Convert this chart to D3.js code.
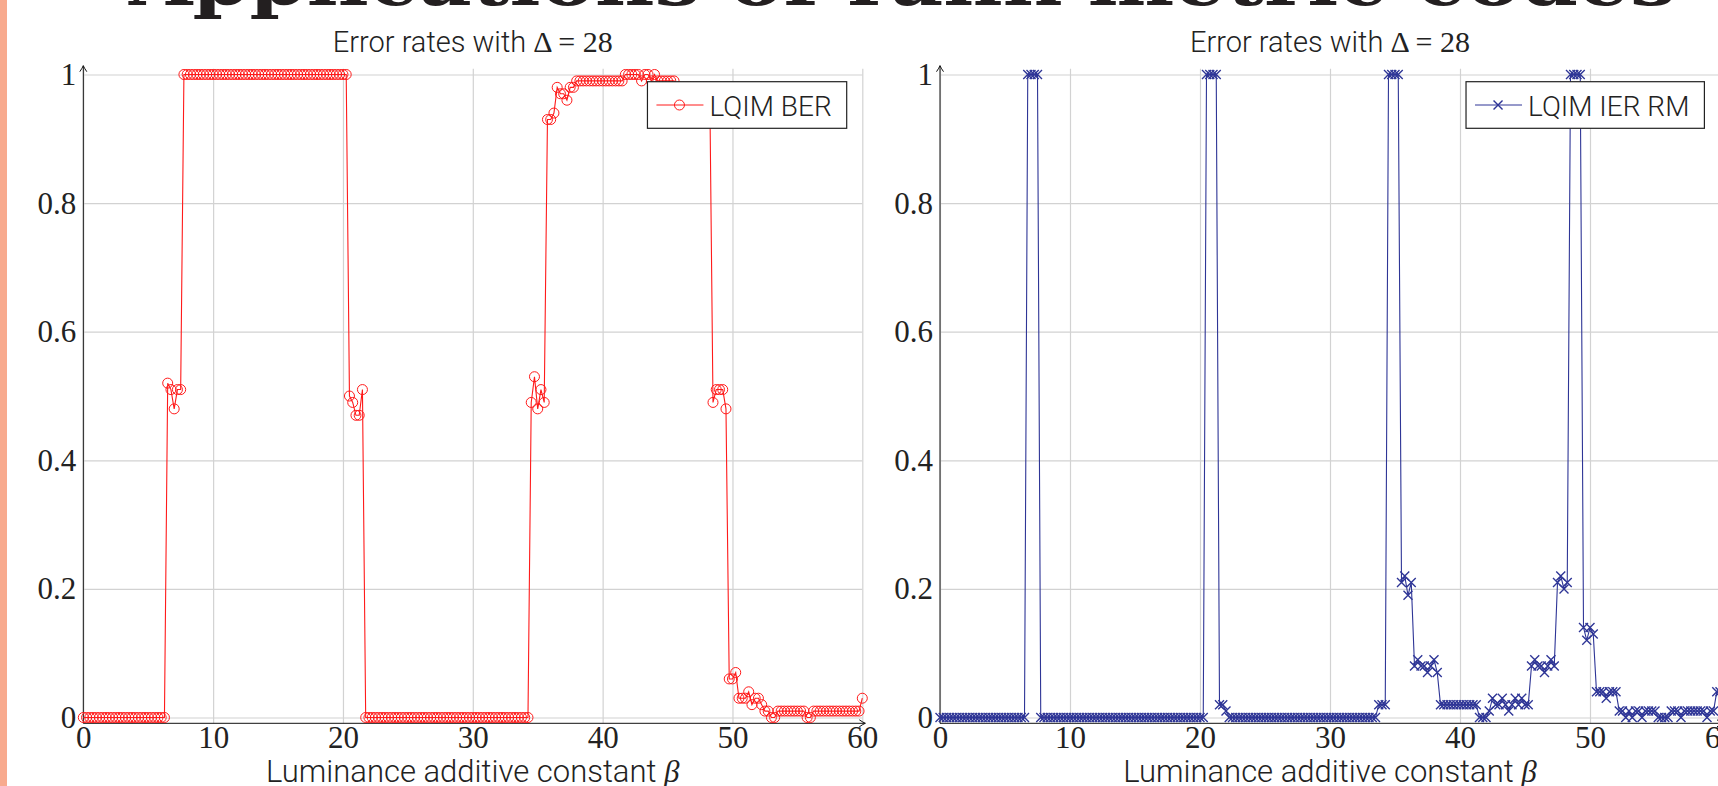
<!DOCTYPE html>
<html>
<head>
<meta charset="utf-8">
<script src="https://cdn.jsdelivr.net/npm/d3@7"></script>
<style>
  html, body { margin: 0; padding: 0; background: #fff; overflow: hidden; }
  svg { display: block; }
  .grid line { stroke: #d2d2d2; stroke-width: 1.2; }
  .grid path { display: none; }
  .labels path { display: none; }
  .labels text { font-family: "Liberation Serif", serif; font-size: 31px; fill: #222; }
  .sans { font-family: Roboto, sans-serif; font-weight: 300; fill: #222; }
</style>
</head>
<body>
<div id="grafiek"></div>
<script>
// sample positions of beta: 0, 0.25, ... , 60
const beta = d3.range(0, 60.001, 0.25);

const xTicks = [0, 10, 20, 30, 40, 50, 60];
const yTicks = [0, 0.2, 0.4, 0.6, 0.8, 1];

// LQIM BER, one row per 5 units of beta
const berWaarden = [
  0, 0, 0, 0, 0, 0, 0, 0, 0, 0, 0, 0, 0, 0, 0, 0, 0, 0, 0, 0,
  0, 0, 0, 0, 0, 0, .52, .51, .48, .51, .51, 1, 1, 1, 1, 1, 1, 1, 1, 1,
  1, 1, 1, 1, 1, 1, 1, 1, 1, 1, 1, 1, 1, 1, 1, 1, 1, 1, 1, 1,
  1, 1, 1, 1, 1, 1, 1, 1, 1, 1, 1, 1, 1, 1, 1, 1, 1, 1, 1, 1,
  1, 1, .50, .49, .47, .47, .51, 0, 0, 0, 0, 0, 0, 0, 0, 0, 0, 0, 0, 0,
  0, 0, 0, 0, 0, 0, 0, 0, 0, 0, 0, 0, 0, 0, 0, 0, 0, 0, 0, 0,
  0, 0, 0, 0, 0, 0, 0, 0, 0, 0, 0, 0, 0, 0, 0, 0, 0, 0, .49, .53,
  .48, .51, .49, .93, .93, .94, .98, .97, .97, .96, .98, .98, .99, .99, .99, .99, .99, .99, .99, .99,
  .99, .99, .99, .99, .99, .99, .99, 1, 1, 1, 1, 1, .99, 1, 1, .99, 1, .99, .99, .99,
  .99, .99, .99, .98, .98, .98, .98, .98, .98, .98, .98, .98, .98, .98, .49, .51, .51, .51, .48, .06,
  .06, .07, .03, .03, .03, .04, .02, .03, .03, .02, .01, .01, 0, 0, .01, .01, .01, .01, .01, .01,
  .01, .01, .01, 0, 0, .01, .01, .01, .01, .01, .01, .01, .01, .01, .01, .01, .01, .01, .01, .01,
  .03
];

// LQIM IER RM, one row per 5 units of beta
const ierWaarden = [
  0, 0, 0, 0, 0, 0, 0, 0, 0, 0, 0, 0, 0, 0, 0, 0, 0, 0, 0, 0,
  0, 0, 0, 0, 0, 0, 0, 1, 1, 1, 1, 0, 0, 0, 0, 0, 0, 0, 0, 0,
  0, 0, 0, 0, 0, 0, 0, 0, 0, 0, 0, 0, 0, 0, 0, 0, 0, 0, 0, 0,
  0, 0, 0, 0, 0, 0, 0, 0, 0, 0, 0, 0, 0, 0, 0, 0, 0, 0, 0, 0,
  0, 0, 1, 1, 1, 1, .02, .02, .01, 0, 0, 0, 0, 0, 0, 0, 0, 0, 0, 0,
  0, 0, 0, 0, 0, 0, 0, 0, 0, 0, 0, 0, 0, 0, 0, 0, 0, 0, 0, 0,
  0, 0, 0, 0, 0, 0, 0, 0, 0, 0, 0, 0, 0, 0, 0, .02, .02, .02, 1, 1,
  1, 1, .21, .22, .19, .21, .08, .09, .08, .08, .07, .08, .09, .07, .02, .02, .02, .02, .02, .02,
  .02, .02, .02, .02, .02, .02, 0, 0, 0, .01, .03, .02, .02, .03, .02, .01, .02, .03, .02, .03,
  .02, .02, .08, .09, .08, .08, .07, .08, .09, .08, .21, .22, .20, .21, 1, 1, 1, 1, .14, .12,
  .14, .13, .04, .04, .04, .03, .04, .04, .04, .01, .01, 0, .01, 0, .01, .01, 0, .01, .01, .01,
  .01, 0, 0, 0, 0, .01, .01, .01, 0, .01, .01, .01, .01, .01, .01, .01, 0, .01, .01, .04,
  .04
];

const titel = "Applications of rank metric codes";
const grafiekTitel = "Error rates with ";
const grafiekTitelWiskunde = "Δ = 28";
const xLabel = "Luminance additive constant ";
const xLabelWiskunde = "β";

const breedte = 1718;
const hoogte = 786;

const svg = d3
  .select("#grafiek")
  .append("svg")
  .attr("width", breedte)
  .attr("height", hoogte);

// pijlpunt voor de assen
svg
  .append("defs")
  .append("marker")
  .attr("id", "pijl")
  .attr("viewBox", "-8 -5 10 10")
  .attr("markerWidth", 10)
  .attr("markerHeight", 10)
  .attr("markerUnits", "userSpaceOnUse")
  .attr("orient", "auto")
  .append("path")
  .attr("d", "M-6,-3.5 Q-2,-0.8 0,0 Q-2,0.8 -6,3.5")
  .attr("fill", "none")
  .attr("stroke", "#111")
  .attr("stroke-width", 1);

// oranje balk links
svg
  .append("rect")
  .attr("x", 0)
  .attr("y", 0)
  .attr("width", 7)
  .attr("height", hoogte)
  .attr("fill", "#f8aa8e");

// grote titel, alleen de onderkant valt in beeld
svg
  .append("text")
  .attr("x", 129)
  .attr("y", 5)
  .attr("textLength", 1547)
  .attr("lengthAdjust", "spacingAndGlyphs")
  .style("font-family", "'DejaVu Serif', serif")
  .style("font-weight", "bold")
  .style("font-size", "70px")
  .attr("fill", "#231f20")
  .text(titel);

function tekenGrafiek(opties) {
  const { links, rechts, waarden, kleur, marker, legenda } = opties;

  const xschaal = d3.scaleLinear().domain([0, 60]).range([links, rechts]);
  const yschaal = d3.scaleLinear().domain([-0.009, 1.009]).range([723.3, 68.7]);

  const yOnder = yschaal(-0.009);
  const yBoven = yschaal(1.009);

  const g = svg.append("g");

  // rasterlijnen
  g.append("g")
    .attr("class", "grid")
    .attr("transform", `translate(0,${yOnder})`)
    .call(d3.axisBottom(xschaal).tickValues(xTicks).tickSize(-(yOnder - yBoven)).tickFormat(""));

  g.append("g")
    .attr("class", "grid")
    .attr("transform", `translate(${links},0)`)
    .call(d3.axisLeft(yschaal).tickValues(yTicks).tickSize(-(rechts - links)).tickFormat(""));

  // labels bij de assen
  g.append("g")
    .attr("class", "labels")
    .attr("transform", `translate(0,${yOnder})`)
    .call(d3.axisBottom(xschaal).tickValues(xTicks).tickSize(0).tickPadding(3).tickFormat((d) => d));

  g.append("g")
    .attr("class", "labels")
    .attr("transform", `translate(${links},0)`)
    .call(d3.axisLeft(yschaal).tickValues(yTicks).tickSize(0).tickPadding(7).tickFormat((d) => d));

  g.selectAll(".labels .tick line").remove();

  // assen met pijl
  g.append("line")
    .attr("x1", links)
    .attr("x2", rechts + 3)
    .attr("y1", yOnder)
    .attr("y2", yOnder)
    .attr("stroke", "#111")
    .attr("stroke-width", 1)
    .attr("marker-end", "url(#pijl)");

  g.append("line")
    .attr("x1", links)
    .attr("x2", links)
    .attr("y1", yOnder)
    .attr("y2", yBoven - 3)
    .attr("stroke", "#111")
    .attr("stroke-width", 1)
    .attr("marker-end", "url(#pijl)");

  const punten = beta.map((b, i) => ({ x: b, y: waarden[i] }));

  const lijn = d3
    .line()
    .x((d) => xschaal(d.x))
    .y((d) => yschaal(d.y));

  g.append("path")
    .datum(punten)
    .attr("d", lijn)
    .attr("fill", "none")
    .attr("stroke", kleur)
    .attr("stroke-width", 1.1);

  tekenMarkers(g, punten, xschaal, yschaal, kleur, marker);

  // titel boven de grafiek
  const t = g
    .append("text")
    .attr("x", (links + rechts) / 2)
    .attr("y", 52)
    .attr("text-anchor", "middle")
    .style("font-size", "29px");
  t.append("tspan").attr("class", "sans").text(grafiekTitel);
  t.append("tspan")
    .style("font-family", "'Liberation Serif', serif")
    .style("font-size", "30px")
    .attr("fill", "#222")
    .text(grafiekTitelWiskunde);

  // label onder de x-as
  const l = g
    .append("text")
    .attr("x", (links + rechts) / 2)
    .attr("y", 782)
    .attr("text-anchor", "middle")
    .style("font-size", "31px");
  l.append("tspan").attr("class", "sans").text(xLabel);
  l.append("tspan")
    .style("font-family", "'Liberation Serif', serif")
    .style("font-style", "italic")
    .style("font-size", "31px")
    .attr("fill", "#222")
    .text(xLabelWiskunde);

  // legenda rechtsboven
  const leg = g.append("g");
  const box = leg.append("rect").attr("fill", "#fff").attr("stroke", "#222").attr("stroke-width", 1.2);
  const tekst = leg
    .append("text")
    .attr("class", "sans")
    .style("font-size", "28px")
    .attr("dominant-baseline", "central")
    .text(legenda);
  const tb = tekst.node().getComputedTextLength();
  const bw = 62 + tb + 15;
  const bx = rechts - 15.6 - bw;
  const by = 81.7;
  const bh = 46.6;
  box.attr("x", bx).attr("y", by).attr("width", bw).attr("height", bh);
  tekst.attr("x", bx + 62).attr("y", by + bh / 2 + 1);
  leg.append("line")
    .attr("x1", bx + 9)
    .attr("x2", bx + 56)
    .attr("y1", by + bh / 2)
    .attr("y2", by + bh / 2)
    .attr("stroke", kleur)
    .attr("stroke-width", 1);
  tekenMarkers(leg, [{ x: 0, y: 0 }], () => bx + 32, () => by + bh / 2, kleur, marker);
}

function tekenMarkers(g, punten, xs, ys, kleur, marker) {
  if (marker === "cirkel") {
    g.append("g")
      .selectAll("circle")
      .data(punten)
      .join("circle")
      .attr("cx", (d) => xs(d.x))
      .attr("cy", (d) => ys(d.y))
      .attr("r", 5)
      .attr("fill", "none")
      .attr("stroke", kleur)
      .attr("stroke-width", 1);
  } else {
    const s = 4.5;
    g.append("g")
      .selectAll("path")
      .data(punten)
      .join("path")
      .attr("d", (d) => {
        const cx = xs(d.x);
        const cy = ys(d.y);
        return `M${cx - s},${cy - s}L${cx + s},${cy + s}M${cx - s},${cy + s}L${cx + s},${cy - s}`;
      })
      .attr("fill", "none")
      .attr("stroke", kleur)
      .attr("stroke-width", 1.4);
  }
}

tekenGrafiek({
  links: 83.3,
  rechts: 862.3,
  waarden: berWaarden,
  kleur: "#ff1a1a",
  marker: "cirkel",
  legenda: "LQIM BER",
});

tekenGrafiek({
  links: 940,
  rechts: 1720,
  waarden: ierWaarden,
  kleur: "#2e3596",
  marker: "kruis",
  legenda: "LQIM IER RM",
});
</script>
</body>
</html>
